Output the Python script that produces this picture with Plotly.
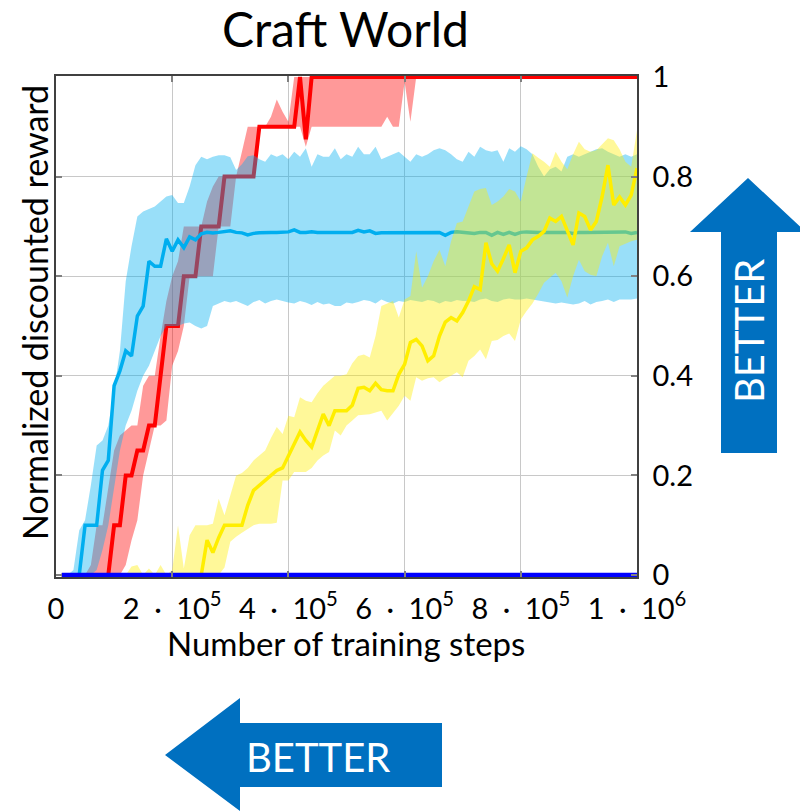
import plotly.graph_objects as go

# training steps: one sample every 1e4 steps
steps = [10000 * k for k in range(1, 101)]

cyan_mean = [0, 0, 0, 0, 0.1, 0.1, 0.1, 0.21, 0.23, 0.38,
             0.41, 0.45, 0.44, 0.52, 0.54, 0.63, 0.62, 0.62, 0.675, 0.65,
             0.673, 0.657, 0.679, 0.673, 0.685, 0.688, 0.687, 0.688, 0.689, 0.691,
             0.688, 0.687, 0.683, 0.686, 0.687, 0.688, 0.688, 0.688, 0.688, 0.689,
             0.693, 0.688, 0.688, 0.689, 0.688, 0.688, 0.688, 0.688, 0.688, 0.688,
             0.688, 0.692, 0.689, 0.691, 0.686, 0.687, 0.687, 0.688, 0.688, 0.688,
             0.687, 0.688, 0.688, 0.688, 0.688, 0.688, 0.682, 0.688, 0.689, 0.688,
             0.688, 0.686, 0.688, 0.688, 0.682, 0.688, 0.684, 0.688, 0.684, 0.688,
             0.689, 0.688, 0.688, 0.688, 0.688, 0.688, 0.688, 0.688, 0.686, 0.688,
             0.688, 0.688, 0.689, 0.689, 0.689, 0.688, 0.689, 0.689, 0.686, 0.688]
cyan_upper = [0, 0, 0.01, 0.09, 0.11, 0.18, 0.26, 0.27, 0.3, 0.37,
              0.45, 0.59, 0.66, 0.72, 0.73, 0.735, 0.74, 0.75, 0.76, 0.763,
              0.747, 0.747, 0.78, 0.823, 0.84, 0.835, 0.84, 0.843, 0.843, 0.839,
              0.813, 0.825, 0.841, 0.843, 0.835, 0.83, 0.845, 0.84, 0.845, 0.835,
              0.85, 0.84, 0.857, 0.82, 0.845, 0.84, 0.84, 0.857, 0.835, 0.845,
              0.84, 0.86, 0.845, 0.845, 0.86, 0.835, 0.84, 0.845, 0.85, 0.84,
              0.83, 0.845, 0.84, 0.845, 0.853, 0.857, 0.853, 0.845, 0.835, 0.83,
              0.85, 0.84, 0.86, 0.853, 0.85, 0.853, 0.83, 0.857, 0.85, 0.861,
              0.855, 0.845, 0.82, 0.8, 0.815, 0.82, 0.81, 0.84, 0.845, 0.84,
              0.845, 0.85, 0.855, 0.857, 0.85, 0.845, 0.84, 0.845, 0.84, 0.845]
cyan_lower = [0, 0, 0, 0, 0, 0, 0.01, 0.05, 0.1, 0.17,
              0.25, 0.3, 0.33, 0.37, 0.4, 0.42, 0.45, 0.48, 0.5, 0.5,
              0.5, 0.505, 0.507, 0.5, 0.495, 0.5, 0.54, 0.545, 0.55, 0.547,
              0.55, 0.545, 0.54, 0.548, 0.552, 0.545, 0.55, 0.553, 0.55, 0.547,
              0.545, 0.55, 0.547, 0.542, 0.548, 0.543, 0.545, 0.54, 0.54, 0.547,
              0.545, 0.548, 0.552, 0.55, 0.545, 0.553, 0.548, 0.545, 0.55, 0.548,
              0.552, 0.55, 0.548, 0.552, 0.55, 0.545, 0.55, 0.548, 0.552, 0.55,
              0.55, 0.548, 0.553, 0.555, 0.55, 0.548, 0.553, 0.555, 0.553, 0.553,
              0.555, 0.553, 0.55, 0.548, 0.547, 0.545, 0.547, 0.545, 0.543, 0.545,
              0.55, 0.543, 0.548, 0.55, 0.553, 0.548, 0.553, 0.553, 0.553, 0.555]

red_mean = [0, 0, 0, 0, 0, 0, 0, 0, 0, 0.1,
            0.1, 0.2, 0.2, 0.25, 0.25, 0.3, 0.3, 0.4, 0.5, 0.5,
            0.5, 0.6, 0.6, 0.6, 0.7, 0.7, 0.7, 0.7, 0.8, 0.8,
            0.8, 0.8, 0.8, 0.8, 0.9, 0.9, 0.9, 0.9, 0.9, 0.9,
            0.9, 1.0, 0.875, 1.0, 1.0, 1.0, 1.0, 1.0, 1.0, 1.0] + [1.0] * 50
red_upper = [0, 0, 0, 0, 0, 0.02, 0.1, 0.1, 0.18, 0.25,
             0.28, 0.29, 0.3, 0.3, 0.38, 0.4, 0.4, 0.48, 0.55, 0.6,
             0.63, 0.7, 0.7, 0.7, 0.7, 0.75, 0.78, 0.8, 0.8, 0.8,
             0.8, 0.85, 0.9, 0.9, 0.9, 0.9, 0.92, 0.955, 0.93, 0.91,
             1.0, 1.0, 1.0, 1.0, 1.0, 1.0, 1.0, 1.0, 1.0, 1.0] + [1.0] * 50
red_lower = [0, 0, 0, 0, 0, 0, 0, 0, 0, 0,
             0, 0.02, 0.07, 0.11, 0.2, 0.25, 0.3, 0.3, 0.31, 0.42,
             0.45, 0.5, 0.6, 0.6, 0.6, 0.6, 0.6, 0.7, 0.7, 0.7,
             0.8, 0.8, 0.8, 0.8, 0.9, 0.9, 0.9, 0.9, 0.9, 0.9,
             0.9, 0.9, 0.86, 0.9, 0.9, 0.9, 0.9, 0.9, 0.9, 0.9,
             0.9, 0.9, 0.9, 0.9, 0.9, 0.9, 0.92, 0.9, 0.9, 0.99,
             0.91, 1.0, 1.0, 1.0, 1.0, 1.0, 1.0, 1.0, 1.0, 1.0] + [1.0] * 30

yellow_mean = [0] * 25 + [
    0.07, 0.045, 0.075, 0.1, 0.1,
    0.1, 0.1, 0.14, 0.17, 0.18, 0.19, 0.2, 0.21, 0.215, 0.24,
    0.265, 0.287, 0.27, 0.257, 0.29, 0.323, 0.3, 0.33, 0.33, 0.33,
    0.341, 0.375, 0.377, 0.37, 0.385, 0.372, 0.37, 0.37, 0.403, 0.423,
    0.467, 0.473, 0.46, 0.43, 0.44, 0.48, 0.508, 0.517, 0.51, 0.527,
    0.55, 0.579, 0.573, 0.667, 0.625, 0.61, 0.635, 0.663, 0.607, 0.65,
    0.657, 0.673, 0.68, 0.69, 0.717, 0.71, 0.72, 0.69, 0.663, 0.727,
    0.72, 0.693, 0.71, 0.76, 0.823, 0.743, 0.759, 0.743, 0.763, 0.817]
yellow_upper = [0] * 12 + [
    0.017, 0.02, 0.0, 0.013, 0.0, 0.02, 0.0, 0.01,
    0.1, 0.013, 0.08, 0.1, 0.1, 0.1, 0.103, 0.153, 0.12, 0.16,
    0.2, 0.205, 0.215, 0.23, 0.24, 0.25, 0.275, 0.297, 0.283, 0.32,
    0.317, 0.357, 0.35, 0.347, 0.365, 0.38, 0.39, 0.4, 0.4, 0.403,
    0.425, 0.44, 0.443, 0.437, 0.48, 0.54, 0.545, 0.55, 0.517, 0.553,
    0.56, 0.65, 0.577, 0.6, 0.63, 0.653, 0.62, 0.67, 0.707, 0.71,
    0.74, 0.77, 0.775, 0.777, 0.743, 0.75, 0.76, 0.775, 0.77, 0.75,
    0.8, 0.847, 0.838, 0.83, 0.82, 0.85, 0.83, 0.815, 0.845, 0.87,
    0.855, 0.85, 0.853, 0.865, 0.877, 0.873, 0.855, 0.83, 0.82, 0.893]
yellow_lower = [0] * 28 + [
    0.015, 0.067,
    0.077, 0.085, 0.093, 0.1, 0.103, 0.103, 0.103, 0.105, 0.19, 0.19,
    0.207, 0.207, 0.207, 0.215, 0.23, 0.24, 0.247, 0.29, 0.28, 0.3,
    0.31, 0.321, 0.322, 0.323, 0.327, 0.33, 0.31, 0.325, 0.34, 0.36,
    0.35, 0.397, 0.39, 0.395, 0.397, 0.387, 0.395, 0.4, 0.407, 0.397,
    0.43, 0.44, 0.453, 0.433, 0.47, 0.472, 0.48, 0.485, 0.47, 0.513,
    0.53, 0.545, 0.565, 0.587, 0.597, 0.607, 0.59, 0.557, 0.6, 0.633,
    0.61, 0.603, 0.6, 0.64, 0.667, 0.62, 0.66, 0.665, 0.67, 0.673]

blue_mean = [0] * 100

SP = "\u2002"
x_tickvals = [0, 200000, 400000, 600000, 800000, 1000000]
x_ticktext = ["0"] + [f"{m}{SP}·{SP}10<sup>{e}</sup>"
                      for m, e in [(2, 5), (4, 5), (6, 5), (8, 5), (1, 6)]]
y_tickvals = [0, 0.2, 0.4, 0.6, 0.8, 1]
y_ticktext = ["0", "0.2", "0.4", "0.6", "0.8", "1"]

RED = "rgb(255,0,0)"
CYAN = "rgb(0,174,239)"
YELLOW = "rgb(255,238,0)"
BLUE = "rgb(0,0,255)"
ARROW = "#0070C0"
FONT = "Lato"

fig = go.Figure()


def band(upper, lower, rgb):
    fig.add_trace(go.Scatter(
        x=steps + steps[::-1], y=upper + lower[::-1], fill="toself",
        fillcolor=f"rgba({rgb},0.4)", line=dict(width=0), mode="lines",
        hoverinfo="skip", showlegend=False))


def curve(y, color, width):
    fig.add_trace(go.Scatter(x=steps, y=y, mode="lines",
                             line=dict(color=color, width=width),
                             showlegend=False))


band(red_upper, red_lower, "255,0,0")
curve(red_mean, RED, 4)
band(cyan_upper, cyan_lower, "0,174,239")
curve(cyan_mean, CYAN, 3.5)
band(yellow_upper, yellow_lower, "255,238,0")
curve(yellow_mean, YELLOW, 3.5)
curve(blue_mean, BLUE, 4.5)

# plot area in pixels
L, R, T, B = 56, 637, 76, 577
W, H = 800, 811
PW, PH = R - L, B - T


def px(x):
    return (x - L) / PW


def py(y):
    return (B - y) / PH


def path(points):
    return "M" + " L".join(f"{px(a):.5f},{py(b):.5f}" for a, b in points) + " Z"


up_arrow = [(721, 453), (721, 232), (690, 232), (748, 178), (806, 232),
            (777, 232), (777, 453)]
left_arrow = [(442, 723), (240, 723), (240, 698), (165, 755), (240, 811),
              (240, 787), (442, 787)]
for pts in (up_arrow, left_arrow):
    fig.add_shape(type="path", path=path(pts), xref="paper", yref="paper",
                  fillcolor=ARROW, line=dict(width=0), layer="above")


def label(x, y, text, size, color="black", angle=0):
    fig.add_annotation(x=px(x), y=py(y), xref="paper", yref="paper",
                       xanchor="center", yanchor="middle", text=text,
                       textangle=angle, showarrow=False,
                       font=dict(family=FONT, size=size, color=color))


label(749, 331, "BETTER", 40, "white", -90)
label(318, 757, "BETTER", 40, "white")
label(345, 29, "Craft World", 48)
label(34, 313, "Normalized discounted reward", 34, angle=-90)
label(346, 643, "Number of training steps", 33)

axis_common = dict(showgrid=True, gridcolor="#c8c8c8", gridwidth=1,
                   showline=True, linecolor="#404040", linewidth=1.5,
                   mirror="ticks", ticks="inside", ticklen=6,
                   tickcolor="#808080", tickwidth=1.5, zeroline=False,
                   tickfont=dict(family=FONT, size=29, color="black"))

fig.update_layout(
    width=W, height=H,
    margin=dict(l=L, r=W - R, t=T, b=H - B),
    paper_bgcolor="white", plot_bgcolor="white",
    showlegend=False,
    xaxis=dict(range=[0, 1000000], tickvals=x_tickvals, ticktext=x_ticktext,
               ticklabelstandoff=5, **axis_common),
    yaxis=dict(range=[-0.004, 1.002], tickvals=y_tickvals, ticktext=y_ticktext,
               side="right", ticklabelstandoff=8, **axis_common),
)

fig.write_html("out.html")
